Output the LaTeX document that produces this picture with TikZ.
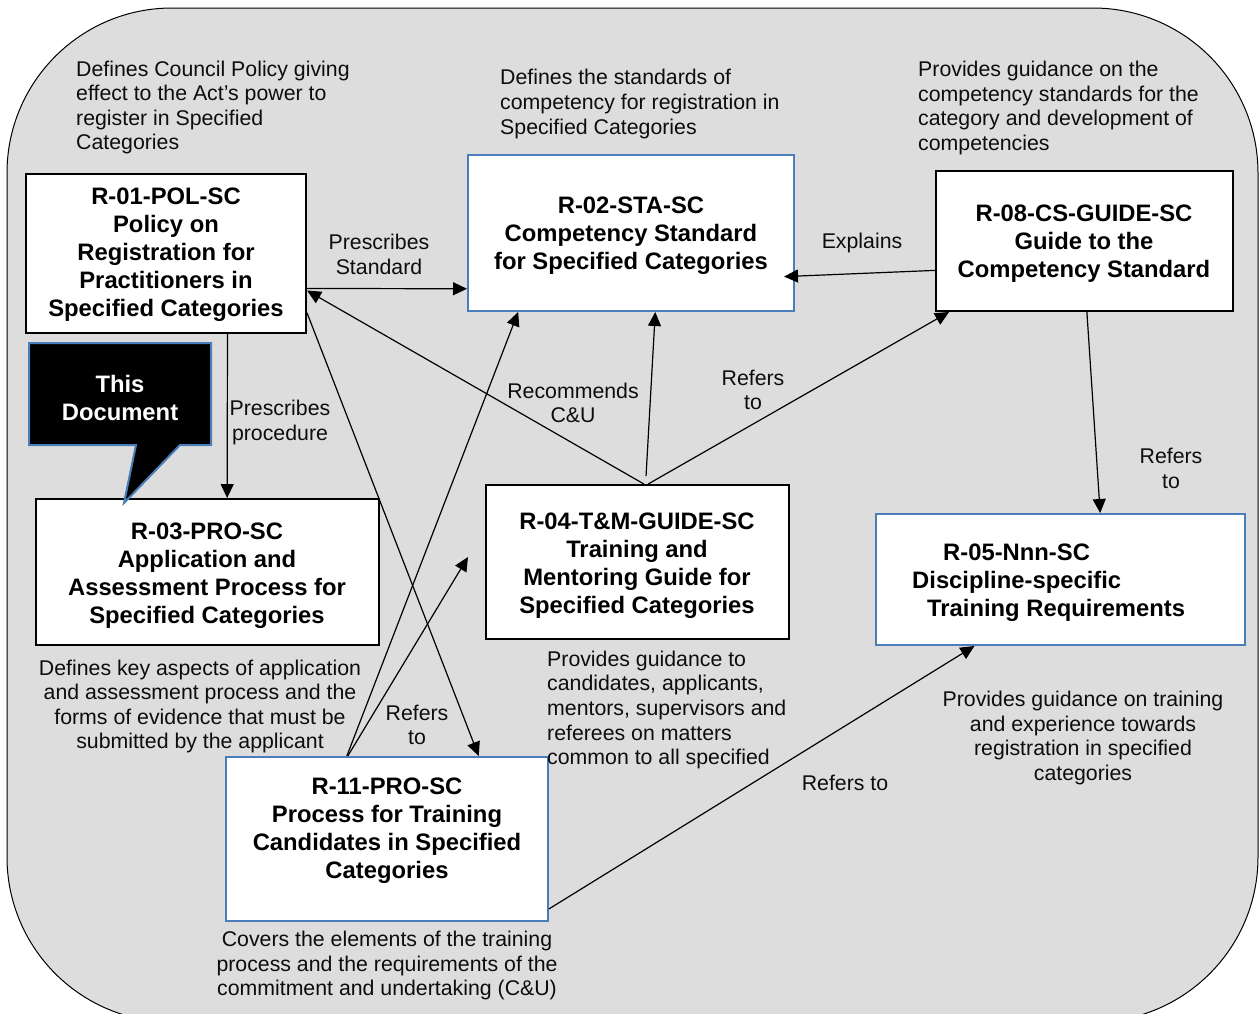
\documentclass[tikz,border=0pt]{standalone}
\usepackage{fontspec}
\setmainfont{Liberation Sans}
\usetikzlibrary{arrows.meta,calc}
\definecolor{bggrey}{HTML}{DDDDDD}
\definecolor{boxblue}{HTML}{4A7EBB}
\begin{document}
\begin{tikzpicture}[x=1pt,y=-1pt,
  conn/.style={line width=1.2pt,-{Triangle[length=14pt,width=13pt]}},
  boxk/.style={draw=black,line width=2pt,fill=white,inner sep=0pt},
  boxb/.style={draw=boxblue,line width=2pt,fill=white,inner sep=0pt},
  btext/.style={font=\fontsize{23.8}{28}\selectfont\bfseries,align=center,inner sep=0pt,yshift=-2.5pt},
  lbl/.style={font=\fontsize{21.3}{24.6}\selectfont,inner sep=0pt,text=black!95,yshift=-2pt},
]
\useasboundingbox (0,0) rectangle (1259,1013);
\clip (0,0) rectangle (1259,1013);
% background
\draw[fill=bggrey,line width=1pt,rounded corners=165pt] (7,8) rectangle (1258,1022);

% boxes
\node[boxk,minimum width=280pt,minimum height=159pt] (r01) at (166,253.5) {};
\node[boxb,minimum width=326pt,minimum height=156pt] (r02) at (631,233) {};
\node[boxk,minimum width=297pt,minimum height=140pt] (r08) at (1084.5,241) {};
\node[boxk,minimum width=343pt,minimum height=146pt] (r03) at (207.5,572) {};
\node[boxk,minimum width=303pt,minimum height=154pt] (r04) at (637.5,562) {};
\node[boxb,minimum width=369pt,minimum height=131pt] (r05) at (1060.5,579.5) {};
\node[boxb,minimum width=322pt,minimum height=164pt] (r11) at (387,839) {};

% box texts
\node[btext] (r01t) at (166,252.5) {R-01-POL-SC\\Policy on\\Registration for\\Practitioners in\\Specified Categories};
\node[btext] (r02t) at (631,233) {R-02-STA-SC\\Competency Standard\\for Specified Categories};
\node[btext] (r08t) at (1084,241.5) {R-08-CS-GUIDE-SC\\Guide to the\\Competency Standard};
\node[btext] (r03t) at (207,573.5) {R-03-PRO-SC\\Application and\\Assessment Process for\\Specified Categories};
\node[btext] (r04t) at (637,563.5) {R-04-T\&M-GUIDE-SC\\Training and\\Mentoring Guide for\\Specified Categories};
\node[btext,align=left,anchor=west] (r05t) at (912,580.5) {\hspace*{31pt}R-05-Nnn-SC\\Discipline-specific\\\hspace*{15pt}Training Requirements};
\node[btext] (r11t) at (387,828) {R-11-PRO-SC\\Process for Training\\Candidates in Specified\\Categories};

% callout
\draw[fill=black,draw=boxblue,line width=2pt] (29,343) -- (211,343) -- (211,445) -- (180,445) -- (124,503) -- (136,445) -- (29,445) -- cycle;
\node[btext,text=white] (thisdoc) at (120,395) {This\\Document};

% free end
\coordinate (t04) at (468,557);

% connectors
\draw[conn] ($(r01.north east)!0.717!(r01.south east)$) -- ($(r02.north west)!0.853!(r02.south west)$);
\draw[conn] ($(r04.north west)!0.521!(r04.north east)$) -- ($(r01.north east)!0.73!(r01.south east)$);
\draw[conn] ($(r04.north west)!0.528!(r04.north east)+(0,-8)$) -- ($(r02.south west)!0.574!(r02.south east)$);
\draw[conn] ($(r04.north west)!0.535!(r04.north east)$) -- ($(r08.south west)!0.047!(r08.south east)$);
\draw[conn] ($(r08.north west)!0.707!(r08.south west)$) -- ($(r02.north east)!0.776!(r02.south east)+(-11,0)$);
\draw[conn] ($(r08.south west)!0.508!(r08.south east)$) -- ($(r05.north west)!0.607!(r05.north east)$);
\draw[conn] ($(r01.south west)!0.718!(r01.south east)$) -- ($(r03.north west)!0.557!(r03.north east)$);
\draw[conn] ($(r01.north east)!0.868!(r01.south east)$) -- ($(r11.north west)!0.783!(r11.north east)$);
\draw[conn] ($(r11.north west)!0.376!(r11.north east)$) -- ($(r02.south west)!0.156!(r02.south east)$);
\draw[conn] ($(r11.north west)!0.379!(r11.north east)$) -- (t04);
\draw[conn] ($(r11.north east)!0.921!(r11.south east)$) -- ($(r05.south west)!0.268!(r05.south east)$);

% labels
\node[lbl,align=left,anchor=west] (d01) at (76,105.5) {Defines Council Policy giving\\effect to the Act’s power to\\register in Specified\\Categories};
\node[lbl,align=left,anchor=west] (d02) at (500,102) {Defines the standards of\\competency for registration in\\Specified Categories};
\node[lbl,align=left,anchor=west] (d08) at (918,106) {Provides guidance on the\\competency standards for the\\category and development of\\competencies};
\node[lbl,align=center] (l1) at (379,252.5) {Prescribes\\Standard};
\node[lbl] (l2) at (862,241) {Explains};
\node[lbl,align=center] (l3) at (280,420.5) {Prescribes\\procedure};
\node[lbl,align=center] (l4) at (573,401) {Recommends\\C\&U};
\node[lbl,align=center] (l5) at (753,388) {Refers\\to};
\node[lbl,align=center] (l6) at (1171,466.5) {Refers\\to};
\node[lbl,align=center] (d03) at (200,704.5) {Defines key aspects of application\\and assessment process and the\\forms of evidence that must be\\submitted by the applicant};
\node[lbl,align=center] (l7) at (417,723) {Refers\\to};
\node[lbl,align=left,anchor=west] (d04) at (547,708) {Provides guidance to\\candidates, applicants,\\mentors, supervisors and\\referees on matters\\common to all specified};
\node[lbl] (l8) at (845,781) {Refers to};
\node[lbl,align=center] (d05) at (1083,736) {Provides guidance on training\\and experience towards\\registration in specified\\categories};
\node[lbl,align=center] (d11) at (387,963.5) {Covers the elements of the training\\process and the requirements of the\\commitment and undertaking (C\&U)};
\end{tikzpicture}
\end{document}
